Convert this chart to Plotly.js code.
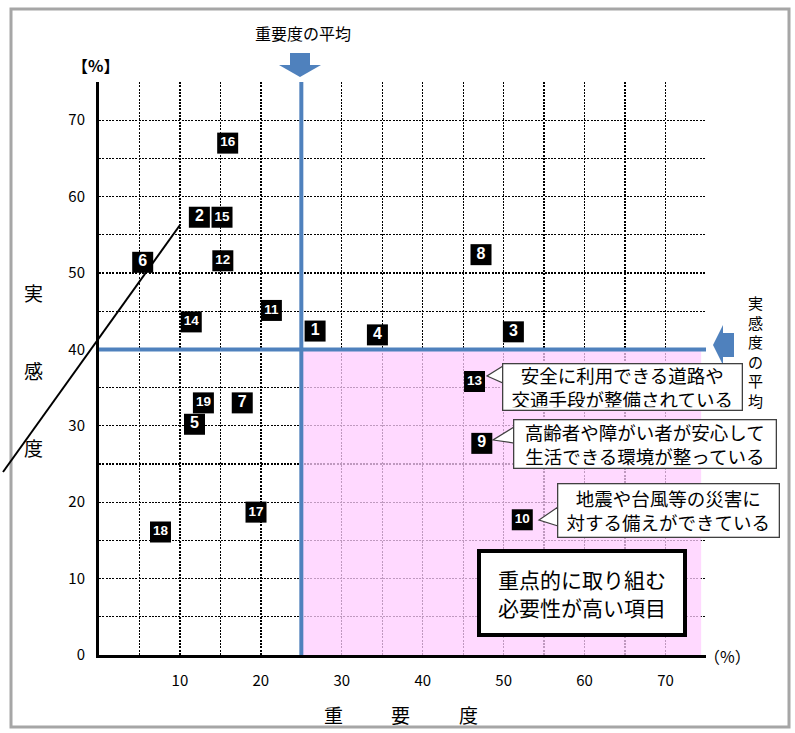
<!DOCTYPE html>
<html>
<head>
<meta charset="utf-8">
<script src="https://cdn.plot.ly/plotly-3.0.1.min.js"></script>
<style>html,body{margin:0;padding:0;background:#fff;}#chart{width:795px;height:733px;}</style>
</head>
<body>
<div id="chart"></div>
<script>
// ---- data ----
const itemLabels = ["1","2","3","4","5","6","7","8","9","10","11","12","13","14","15","16","17","18","19"];
const importance = [26.7,12.4,51.2,34.4,11.8,5.4,17.7,47.2,47.3,52.3,21.3,15.3,46.4,11.4,15.2,15.9,19.4,7.6,12.9];
const satisfaction = [42.4,57.3,42.3,41.9,30.2,51.4,33.0,52.4,27.7,17.7,45.1,51.6,35.8,43.6,57.3,67.0,18.7,16.1,33.0];
const importanceAvg = 25;
const satisfactionAvg = 40;
const xTickVals = [0,10,20,30,40,50,60,70];
const xTickText = ["","10","20","30","40","50","60","70"];
const yTickVals = [0,10,20,30,40,50,60,70];
const yTickText = ["0","10","20","30","40","50","60","70"];
const minorVals = [5,15,25,35,45,55,65];
const callouts = [
  {item:"13", text:"安全に利用できる道路や<br>交通手段が整備されている"},
  {item:"9",  text:"高齢者や障がい者が安心して<br>生活できる環境が整っている"},
  {item:"10", text:"地震や台風等の災害に<br>対する備えができている"}
];

// ---- geometry helpers (pixel -> paper / data) ----
const L=99, R=706, T=82, B=655, XMAX=75, YMAX=75;
const xp = px => (px-L)/(R-L);
const yp = py => (B-py)/(B-T);
const xd = px => (px-L)/(R-L)*XMAX;
const yd = py => (B-py)/(B-T)*YMAX;
function paperPath(pts){ return "M"+pts.map(p=>xp(p[0])+","+yp(p[1])).join(" L")+" Z"; }
function dataPath(pts){ return "M"+pts.map(p=>xd(p[0])+","+yd(p[1])).join(" L")+" Z"; }

const JP = "Noto Sans CJK JP";
const BLUE = "#4f81bd";

const trace = {
  type:"scatter", mode:"markers+text",
  x: importance, y: satisfaction, text: itemLabels,
  textposition:"middle center",
  marker:{symbol:"square", size:21, color:"#000", line:{width:0}},
  textfont:{family:"Liberation Sans", color:"#fff", weight:"bold",
    size: itemLabels.map(s=>s.length>1?13.5:16)},
  cliponaxis:false, hoverinfo:"skip", showlegend:false
};

const gridStyle = {gridcolor:"#000", gridwidth:1.3, griddash:"2px,1.3px"};

const shapes = [
  // frame
  {type:"rect", xref:"paper", yref:"paper", x0:xp(11), x1:xp(789), y0:yp(727), y1:yp(9),
   line:{color:"#a6a6a6", width:3}, fillcolor:"rgba(0,0,0,0)", layer:"below"},
  // priority region
  {type:"rect", xref:"x", yref:"y", x0:importanceAvg, x1:74.4, y0:0, y1:satisfactionAvg,
   line:{width:0}, fillcolor:"rgba(255,204,255,0.75)", layer:"between"},
  // average lines
  {type:"line", xref:"x", yref:"y", x0:importanceAvg, x1:importanceAvg, y0:0, y1:YMAX,
   line:{color:BLUE, width:4}, layer:"between"},
  {type:"line", xref:"x", yref:"y", x0:0, x1:XMAX, y0:satisfactionAvg, y1:satisfactionAvg,
   line:{color:BLUE, width:4}, layer:"between"},
  // arrows
  {type:"path", xref:"paper", yref:"paper", path:paperPath([[290,53],[310,53],[310,65],[321,65],[300,77],[279,65],[290,65]]),
   fillcolor:BLUE, line:{width:0}},
  {type:"path", xref:"paper", yref:"paper", path:paperPath([[713,345],[723,325],[723,333],[734,333],[734,357],[723,357],[723,365]]),
   fillcolor:BLUE, line:{width:0}},
  // diagonal leader line
  {type:"line", xref:"paper", yref:"paper", x0:xp(180), y0:yp(225), x1:xp(3), y1:yp(472),
   line:{color:"#000", width:2}},
  // callout tails
  {type:"path", xref:"x", yref:"y", path:dataPath([[503,366],[487,376],[503,383]]), fillcolor:"#fff", line:{color:"#404040", width:1.2}},
  {type:"path", xref:"x", yref:"y", path:dataPath([[514,427],[493,440],[514,443]]), fillcolor:"#fff", line:{color:"#404040", width:1.2}},
  {type:"path", xref:"x", yref:"y", path:dataPath([[558,507],[539,520],[558,526]]), fillcolor:"#fff", line:{color:"#404040", width:1.2}}
];

const calloutBoxes = {
  "13": {cx:622.5, cy:386.5, w:234, h:41},
  "9":  {cx:645, cy:444, w:257, h:43},
  "10": {cx:668.5, cy:510.5, w:216, h:48}
};

const annotations = [];
callouts.forEach(c=>{
  const b = calloutBoxes[c.item];
  annotations.push({xref:"x", yref:"y", x:xd(b.cx), y:yd(b.cy), text:c.text, showarrow:false,
    font:{family:JP, size:18.5, color:"#000"}, bgcolor:"#fff", bordercolor:"#404040",
    borderwidth:1.3, borderpad:2, width:b.w, height:b.h, align:"center", xanchor:"center", yanchor:"middle"});
});
annotations.push({xref:"x", yref:"y", x:xd(582), y:yd(593), text:"重点的に取り組む<br>必要性が高い項目", showarrow:false,
  font:{family:JP, size:21, color:"#000"}, bgcolor:"#fff", bordercolor:"#000", borderwidth:4, borderpad:2,
  width:198, height:76, xanchor:"center", yanchor:"middle"});

function txt(px,py,t,size,extra){
  return Object.assign({xref:"paper", yref:"paper", x:xp(px), y:yp(py), text:t, showarrow:false,
    font:{family:JP, size:size, color:"#000"}, xanchor:"center", yanchor:"middle"}, extra||{});
}
annotations.push(txt(303,33,"重要度の平均",16));
annotations.push(txt(95,65,"<b>【%】</b>",16));
annotations.push(txt(727,656,"（%）",16));
annotations.push(txt(33,292,"実",19));
annotations.push(txt(33,370,"感",19));
annotations.push(txt(33,447,"度",19));
annotations.push(txt(333,714,"重",19));
annotations.push(txt(400,714,"要",19));
annotations.push(txt(468,714,"度",19));
annotations.push(txt(755,351,"実<br>感<br>度<br>の<br>平<br>均",15));

const layout = {
  width:795, height:733,
  margin:{l:L, r:795-R, t:T, b:733-B, pad:0},
  paper_bgcolor:"#fff", plot_bgcolor:"#fff",
  font:{family:JP, color:"#000"},
  showlegend:false,
  xaxis:Object.assign({range:[0,XMAX], tickmode:"array", tickvals:xTickVals, ticktext:xTickText,
    showgrid:true, zeroline:false, showline:true, linecolor:"#000", linewidth:3, ticks:"",
    ticklabelstandoff:10, tickfont:{family:JP, size:15, color:"#000"}, fixedrange:true,
    minor:Object.assign({tickmode:"array", tickvals:minorVals, showgrid:true, ticks:""}, gridStyle)}, gridStyle),
  yaxis:Object.assign({range:[0,YMAX], tickmode:"array", tickvals:yTickVals, ticktext:yTickText,
    showgrid:true, zeroline:false, showline:true, linecolor:"#000", linewidth:3, ticks:"",
    ticklabelstandoff:8, tickfont:{family:JP, size:15, color:"#000"}, fixedrange:true,
    minor:Object.assign({tickmode:"array", tickvals:minorVals, showgrid:true, ticks:""}, gridStyle)}, gridStyle),
  shapes:shapes,
  annotations:annotations
};

Plotly.newPlot("chart", [trace], layout, {staticPlot:true, displayModeBar:false});
</script>
</body>
</html>
